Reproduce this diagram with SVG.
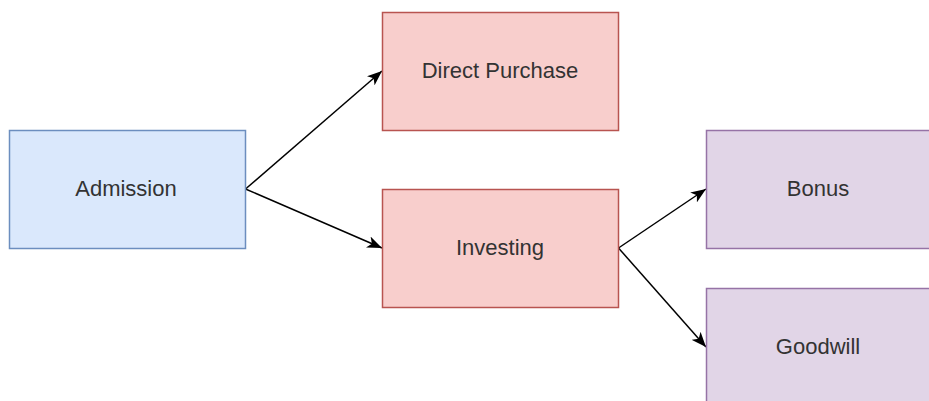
<svg xmlns="http://www.w3.org/2000/svg" width="929" height="401" viewBox="0 0 929 401">
  <defs>
    <marker id="arrow" markerUnits="userSpaceOnUse" markerWidth="16" markerHeight="12" refX="15" refY="6" orient="auto" viewBox="0 0 16 12">
      <path d="M0,0 L15,6 L0,12 L4,6 Z" fill="#000"/>
    </marker>
    <style>
      .blue { fill: #dae8fc; stroke: #6c8ebf; stroke-width: 1.5; }
      .red { fill: #f8cecc; stroke: #b85450; stroke-width: 1.5; }
      .purple { fill: #e1d5e7; stroke: #9673a6; stroke-width: 1.5; }
      .label { font-family: "Liberation Sans", Arial, sans-serif; font-size: 22px; fill: #333333; text-anchor: middle; }
      .edge { fill: none; stroke: #000; stroke-width: 1.5; marker-end: url(#arrow); }
    </style>
  </defs>
  <rect width="929" height="401" fill="#ffffff"/>
  <g id="connectors">
    <line class="edge" x1="245.5" y1="189" x2="382" y2="71"/>
    <line class="edge" x1="245.5" y1="189" x2="382" y2="248"/>
    <line class="edge" x1="618.5" y1="248" x2="706" y2="189"/>
    <line class="edge" x1="618.5" y1="248" x2="706" y2="347"/>
  </g>
  <g id="admission">
    <rect class="blue" x="9.5" y="130.5" width="236" height="118"/>
    <text class="label" x="126" y="196">Admission</text>
  </g>
  <g id="direct-purchase">
    <rect class="red" x="382.5" y="12.5" width="236" height="118"/>
    <text class="label" x="500" y="78">Direct Purchase</text>
  </g>
  <g id="investing">
    <rect class="red" x="382.5" y="189.5" width="236" height="118"/>
    <text class="label" x="500" y="255">Investing</text>
  </g>
  <g id="bonus">
    <rect class="purple" x="706.5" y="130.5" width="236" height="118"/>
    <text class="label" x="818" y="196">Bonus</text>
  </g>
  <g id="goodwill">
    <rect class="purple" x="706.5" y="288.5" width="236" height="118"/>
    <text class="label" x="818" y="354">Goodwill</text>
  </g>
</svg>
